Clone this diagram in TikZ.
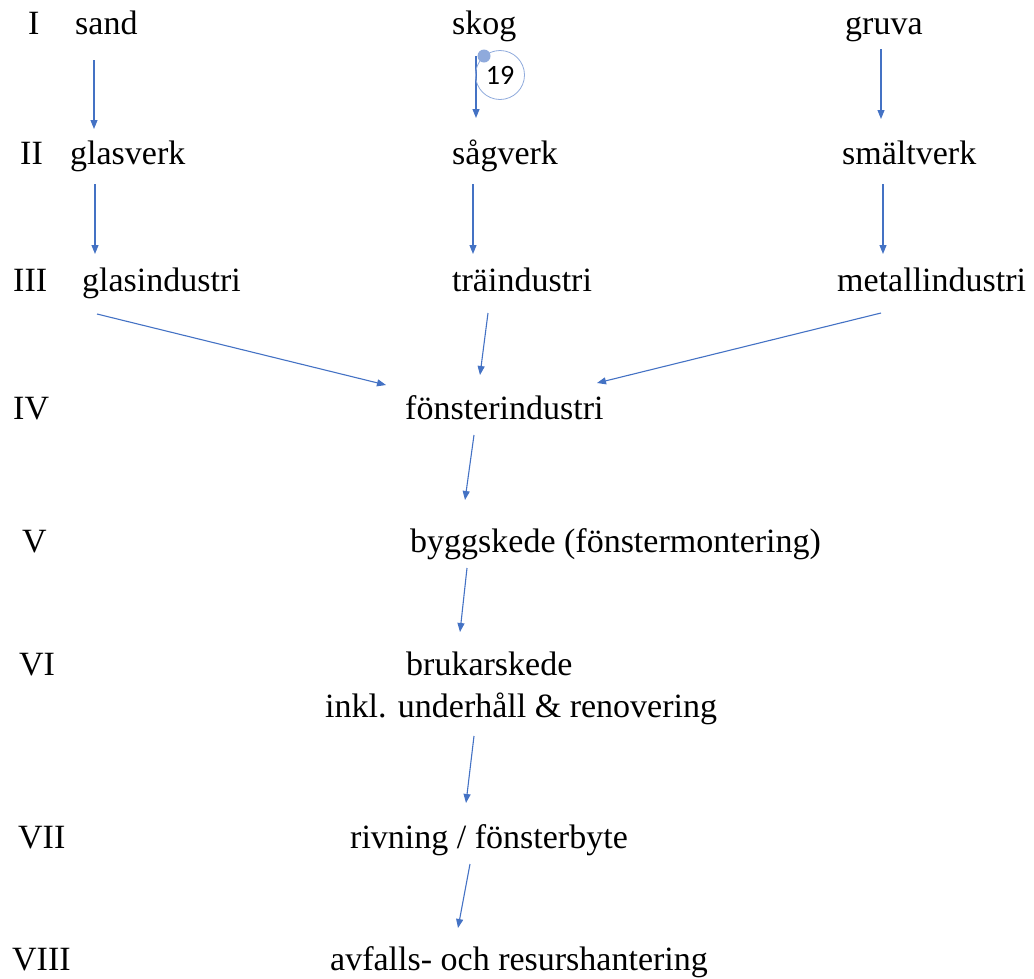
\documentclass[tikz,border=0pt]{standalone}
\usepackage{fontspec}
\setmainfont{Liberation Serif}
\newfontfamily\kommfont{Carlito}
\usetikzlibrary{arrows.meta}
\definecolor{pilfarg}{HTML}{4472C4}
\definecolor{kommfarg}{HTML}{8FAADC}

\begin{document}
\begin{tikzpicture}[x=1pt,y=-1pt,
  txt/.style={anchor=base west,inner sep=0pt,
    font=\fontsize{34}{40}\selectfont},
  pil/.style={draw=pilfarg,line width=1.1pt,
    -{Triangle[length=9pt,width=7pt]}},
  komm/.style={circle,draw=kommfarg,line width=0.8pt,
    minimum size=49pt,inner sep=0pt,font=\kommfont\fontsize{28}{30}\selectfont}]
 \useasboundingbox (0,0) rectangle (1034,978);

 % steg
 \node[txt] (s1) at (28,34) {I};
 \node[txt] (s2) at (20,164) {II};
 \node[txt] (s3) at (13,291) {III};
 \node[txt] (s4) at (13,419) {IV};
 \node[txt] (s5) at (22,552) {V};
 \node[txt] (s6) at (19,675) {VI};
 \node[txt] (s7) at (18,848) {VII};
 \node[txt] (s8) at (12,970) {VIII};

 % text
 \node[txt] (sand) at (75,34) {sand};
 \node[txt] (skog) at (452,34) {skog};
 \node[txt] (gruva) at (845,34) {gruva};
 \node[txt] (glasverk) at (70,164) {glasverk};
 \node[txt] (sagverk) at (452,164) {sågverk};
 \node[txt] (smalt) at (842,164) {smältverk};
 \node[txt] (glasind) at (82,291) {glasindustri};
 \node[txt] (train) at (452,291) {träindustri};
 \node[txt] (metall) at (837,291) {metallindustri};
 \node[txt] (fonster) at (405,419) {fönsterindustri};
 \node[txt] (bygg) at (410,552) {byggskede (fönstermontering)};
 \node[txt] (bruk) at (406,675) {brukarskede};
 \node[txt] (inkl) at (325,717) {inkl. underhåll \& renovering};
 \node[txt] (riv) at (350,848) {rivning / fönsterbyte};
 \node[txt] (avfall) at (330,970) {avfalls- och resurshantering};

 \draw[pil] ([shift={(19,26)}]sand.base west) -- ([shift={(24,-35)}]glasverk.base west);
 \draw[pil] ([shift={(24,22)}]skog.base west) -- ([shift={(24,-46)}]sagverk.base west);
 \draw[pil] ([shift={(36,15)}]gruva.base west) -- ([shift={(39,-45)}]smalt.base west);
 \draw[pil] ([shift={(25,20)}]glasverk.base west) -- ([shift={(13,-37)}]glasind.base west);
 \draw[pil] ([shift={(21,20)}]sagverk.base west) -- ([shift={(21,-37)}]train.base west);
 \draw[pil] ([shift={(41,20)}]smalt.base west) -- ([shift={(46,-37)}]metall.base west);
 \draw[pil] ([shift={(15,23)}]glasind.base west) -- ([shift={(-19,-34)}]fonster.base west);
 \draw[pil] ([shift={(36,22)}]train.base west) -- ([shift={(75,-44)}]fonster.base west);
 \draw[pil] ([shift={(44,22)}]metall.base west) -- ([shift={(192,-36)}]fonster.base west);
 \draw[pil] ([shift={(69,16)}]fonster.base west) -- ([shift={(55,-52)}]bygg.base west);
 \draw[pil] ([shift={(57,16)}]bygg.base west) -- ([shift={(54,-43)}]bruk.base west);
 \draw[pil] ([shift={(149,19)}]inkl.base west) -- ([shift={(116,-45)}]riv.base west);
 \draw[pil] ([shift={(120,16)}]riv.base west) -- ([shift={(128,-42)}]avfall.base west);

 % kommentar
 \node[komm] (k19) at (500,75) {19};
 \node[circle,fill=kommfarg,minimum size=13pt,inner sep=0pt] (prick) at (484,56) {};
\end{tikzpicture}
\end{document}
